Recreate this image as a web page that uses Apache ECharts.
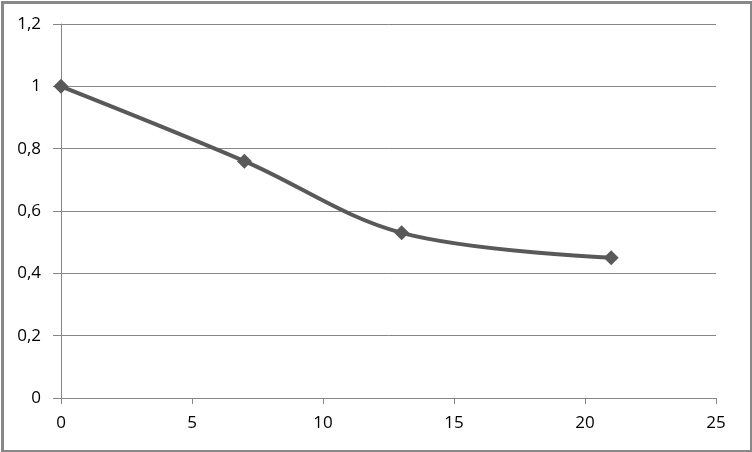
<!DOCTYPE html>
<html>
<head>
<meta charset="utf-8">
<script src="https://cdn.jsdelivr.net/npm/echarts@6/dist/echarts.min.js"></script>
<style>
html,body{margin:0;padding:0;background:#fff;}
#c{width:752px;height:452px;}
</style>
</head>
<body>
<div id="c"></div>
<script>
var xValues = [0, 7, 13, 21];
var yValues = [1, 0.76, 0.53, 0.45];
var xTicks = [0, 5, 10, 15, 20, 25];
var yTicks = [0, 0.2, 0.4, 0.6, 0.8, 1, 1.2];

var chart = echarts.init(document.getElementById('c'), null, {renderer: 'canvas'});
var pts = xValues.map(function (x, i) { return [x, yValues[i]]; });
var fmt = function (v) { return String(Math.round(v * 10) / 10).replace('.', ','); };
var font = 'Open Sans, Liberation Sans, sans-serif';
chart.setOption({
  animation: false,
  backgroundColor: '#fff',
  grid: {left: 61, right: 36, top: 24, bottom: 54, containLabel: false},
  graphic: [{
    type: 'rect', left: 0, top: 0, silent: true,
    shape: {x: 1.5, y: 1.5, width: 749, height: 449},
    style: {fill: 'none', stroke: '#888888', lineWidth: 3}
  }],
  xAxis: {
    type: 'value', min: xTicks[0], max: xTicks[xTicks.length - 1], interval: 5,
    axisLine: {show: true, lineStyle: {color: '#868686', width: 1}},
    axisTick: {show: true, length: 6, lineStyle: {color: '#868686'}},
    splitLine: {show: false},
    axisLabel: {color: '#000', fontSize: 17, fontFamily: font, margin: 17, formatter: fmt}
  },
  yAxis: {
    type: 'value', min: yTicks[0], max: yTicks[yTicks.length - 1], interval: 0.2,
    axisLine: {show: true, lineStyle: {color: '#868686', width: 1}},
    axisTick: {show: true, length: 8, lineStyle: {color: '#868686'}},
    splitLine: {show: true, lineStyle: {color: '#868686', width: 1}},
    axisLabel: {color: '#000', fontSize: 17, fontFamily: font, margin: 20, formatter: fmt}
  },
  series: [{
    type: 'line', data: pts, smooth: 0.35,
    symbol: 'diamond', symbolSize: 15,
    lineStyle: {color: '#595959', width: 4},
    itemStyle: {color: '#595959'}
  }]
});
</script>
</body>
</html>
